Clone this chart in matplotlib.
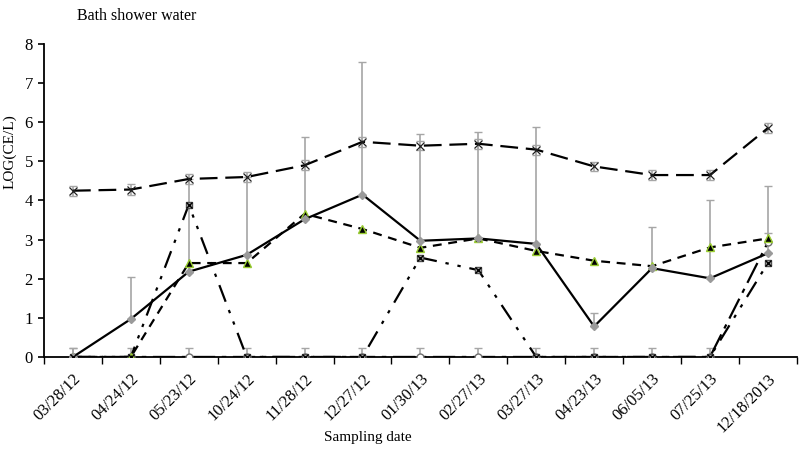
import matplotlib
matplotlib.use("Agg")
import matplotlib.pyplot as plt
import numpy as np

dates = ["03/28/12", "04/24/12", "05/23/12", "10/24/12", "11/28/12", "12/27/12",
         "01/30/13", "02/27/13", "03/27/13", "04/23/13", "06/05/13", "07/25/13", "12/18/2013"]

cross_vals = [4.25, 4.28, 4.55, 4.6, 4.9, 5.5, 5.4, 5.45, 5.3, 4.87, 4.65, 4.65, 5.85]
cross_err = [0.13, 0.13, 0.12, 0.13, 0.13, 0.13, 0.12, 0.13, 0.13, 0.12, 0.13, 0.13, 0.12]

solid_vals = [0.0, 0.97, 2.18, 2.61, 3.52, 4.15, 2.97, 3.03, 2.89, 0.78, 2.27, 2.01, 2.65]
solid_err = [0.23, 1.08, 2.37, 2.0, 2.1, 3.4, 2.73, 2.72, 2.99, 0.35, 1.05, 2.01, 1.72]

tri_vals = [0.0, 0.0, 2.4, 2.4, 3.66, 3.27, 2.79, 3.03, 2.71, 2.46, 2.32, 2.8, 3.03]

box_vals = [0.0, 0.0, 3.89, 0.0, 0.0, 0.0, 2.54, 2.22, 0.0, 0.0, 0.0, 0.0, 2.4]

circ_vals = [0.0, 0.0, 0.0, 0.0, 0.0, 0.0, 0.0, 0.0, 0.0, 0.0, 0.0, 0.0, 2.93]
circ_err = [0.23, 0.23, 0.23, 0.23, 0.23, 0.23, 0.23, 0.23, 0.23, 0.23, 0.23, 0.23, 0.23]

plt.rcParams['font.family'] = ['Liberation Serif', 'DejaVu Serif']

fig = plt.figure(figsize=(8.0, 4.49), dpi=100)
ax = fig.add_axes([0.055, 0.205, 0.941, 0.697])

x = np.arange(len(dates))
gray = "#a6a6a6"

# error bars (upper only)
ax.errorbar(x, solid_vals, yerr=[np.zeros(len(x)), solid_err], fmt='none',
            ecolor=gray, elinewidth=1.2, capsize=3, capthick=1, zorder=1)
ax.errorbar(x, cross_vals, yerr=cross_err, fmt='none',
            ecolor=gray, elinewidth=1.2, capsize=3, capthick=1, zorder=1)
ax.errorbar(x, circ_vals, yerr=[np.zeros(len(x)), circ_err], fmt='none',
            ecolor=gray, elinewidth=1.2, capsize=3, capthick=1, zorder=1)

# lines
ax.plot(x, circ_vals, color='black', lw=1.6, linestyle=(0, (10, 3, 2, 3)),
        marker='o', markersize=5, markerfacecolor='white', markeredgecolor='#707070', zorder=3)
ax.plot(x, box_vals, color='black', lw=1.6, linestyle=(0, (8, 4, 1.5, 4, 1.5, 4)),
        marker='s', markersize=5, markerfacecolor='#b0b0b0', markeredgecolor='#505050', zorder=4)
ax.plot(x, box_vals, linestyle='none', marker='x', markersize=5,
        markeredgecolor='black', markeredgewidth=1, zorder=5)
ax.plot(x, tri_vals, color='black', lw=1.6, linestyle=(0, (4, 3)),
        marker='^', markersize=6, markerfacecolor='black', markeredgecolor='#9acd32',
        markeredgewidth=1, zorder=4)
ax.plot(x, solid_vals, color='black', lw=1.6, linestyle='-',
        marker='D', markersize=4, markerfacecolor='#9a9a9a', markeredgecolor='#9a9a9a', zorder=4)
ax.plot(x, cross_vals, color='black', lw=1.6, linestyle=(0, (8, 3.5)),
        marker='x', markersize=6, markeredgecolor='#202020', markeredgewidth=0.9, zorder=4)

ax.set_xlim(-0.5, len(dates) - 0.5)
ax.set_ylim(0, 8)
ax.set_yticks(range(0, 9))
ax.tick_params(axis='y', direction='out', length=4, width=1.2, labelsize=12, pad=4)

ax.set_xticks(x)
ax.set_xticklabels(dates, rotation=45, ha='right', rotation_mode='anchor', fontsize=12)
ax.tick_params(axis='x', which='major', length=0, pad=10)
ax.set_xticks(np.arange(-0.5, len(dates) + 0.5, 1.0), minor=True)
ax.tick_params(axis='x', which='minor', direction='out', length=5, width=1)

for s in ['top', 'right']:
    ax.spines[s].set_visible(False)
for s in ['left', 'bottom']:
    ax.spines[s].set_linewidth(1.3)

fig.text(10 / 800, 1 - 152 / 449, "LOG(CE/L)", fontsize=11, rotation=90,
         ha='center', va='center')
fig.text(368 / 800, 1 - 437 / 449, "Sampling date", fontsize=11, ha='center', va='center')
fig.text(0.096, 0.982, "Bath shower water", fontsize=11.5, ha='left', va='top')

fig.savefig("out.png", dpi=100)
